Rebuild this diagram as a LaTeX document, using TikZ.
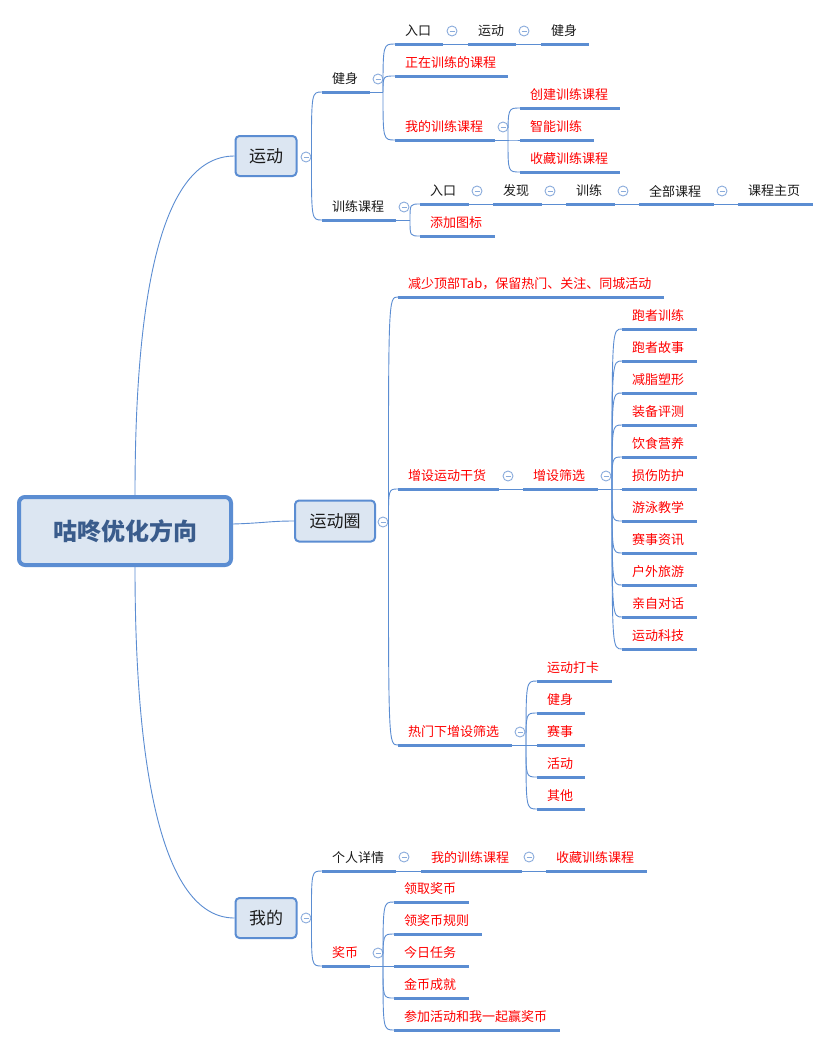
\documentclass[tikz,border=0pt]{standalone}
\usepackage{fontspec}
\setmainfont{Noto Sans CJK SC}
\usetikzlibrary{calc}
\definecolor{ublue}{HTML}{5B8DD2}
\definecolor{boxfill}{HTML}{DCE6F2}
\definecolor{rootfg}{HTML}{3A5C8C}
\definecolor{tred}{HTML}{FF0000}
\definecolor{tblack}{HTML}{1A1A1A}
\definecolor{circblue}{HTML}{8AACDC}
\tikzset{
  uline/.style={draw=ublue, line width=3pt},
  conn/.style={draw=ublue, line width=0.9pt},
  tpt/.style={anchor=west, inner sep=0pt, font=\fontsize{13}{15}\selectfont},
  colnode/.style={circle, draw=circblue, fill=white, line width=0.9pt, minimum size=10pt, inner sep=0pt,
    path picture={\draw[circblue, line width=0.9pt] ([xshift=-2.5pt]path picture bounding box.center) -- ([xshift=2.5pt]path picture bounding box.center);}},
  rootbox/.style={draw=ublue, fill=boxfill, line width=4pt, rounded corners=6pt, minimum width=212pt, minimum height=68pt,
    font=\fontsize{24}{28}\selectfont\bfseries, text=rootfg},
  mainbox/.style={draw=ublue, fill=boxfill, line width=2pt, rounded corners=4pt, minimum height=40pt,
    font=\fontsize{17}{20}\selectfont, text=tblack},
}
\newcommand\topicU[6]{%
  \coordinate (#1-l) at (#2,#3);
  \coordinate (#1-r) at ({#2+#4},#3);
  \node[tpt,text=#5] (#1) at ({#2+10},{#3-13}) {#6};
  \draw[uline] (#1-l) -- (#1-r);
}
\newcommand\collapseC[3]{\node[colnode] (#1) at (#2,#3) {};}
\newcommand\fanTo[2]{\draw[conn] (#1) .. controls (#1 |- #2-l) .. (#2-l);}
\begin{document}
\begin{tikzpicture}[x=1pt,y=-1pt]
\useasboundingbox[fill=white] (0,0) rectangle (831,1047);
% root and main topics
\node[rootbox] (root) at (125,531) {咕咚优化方向};
\node[mainbox, minimum width=61pt] (m1) at (266,156) {运动};
\node[mainbox, minimum width=80pt, minimum height=41pt] (m2) at (335,521) {运动圈};
\node[mainbox, minimum width=61pt] (m3) at (266,918) {我的};
\coordinate (rt) at (135,495);
\coordinate (rb) at (135,567);
\coordinate (rr) at (233,524);
\draw[conn] (rt) .. controls (135,280) and (165,156) .. (m1.west);
\draw[conn] (rb) .. controls (135,782) and (165,918) .. (m3.west);
\draw[conn] (rr) .. controls (265,523) and (270,521) .. (m2.west);
\collapseC{k1}{306}{157}
\collapseC{k2}{383}{522}
\collapseC{k3}{306}{918}
\coordinate (k1b) at (k1.east);
\coordinate (k2b) at (k2.east);
\coordinate (k3b) at (k3.east);

% ---- 运动
\topicU{a1}{322}{92}{48}{tblack}{健身}
\collapseC{ka1}{378}{79}
\coordinate (a1b) at (383,92);
\topicU{a11}{395}{44}{48}{tblack}{入口}
\collapseC{ka11}{452}{31}
\topicU{a111}{468}{44}{48}{tblack}{运动}
\collapseC{ka111}{524}{31}
\topicU{a1111}{541}{44}{48}{tblack}{健身}
\topicU{a12}{395}{76}{113}{tred}{正在训练的课程}
\topicU{a13}{395}{140}{100}{tred}{我的训练课程}
\collapseC{ka13}{503}{127}
\coordinate (a13b) at (508,140);
\topicU{a131}{520}{108}{100}{tred}{创建训练课程}
\topicU{a132}{520}{140}{74}{tred}{智能训练}
\topicU{a133}{520}{172}{100}{tred}{收藏训练课程}
\topicU{a2}{322}{220}{74}{tblack}{训练课程}
\collapseC{ka2}{404}{207}
\coordinate (a2b) at (410,220);
\topicU{a21}{420}{204}{49}{tblack}{入口}
\collapseC{ka21}{477}{191}
\topicU{a211}{493}{204}{49}{tblack}{发现}
\collapseC{ka211}{550}{191}
\topicU{a2111}{566}{204}{49}{tblack}{训练}
\collapseC{ka2111}{623}{191}
\topicU{a21111}{639}{204}{75}{tblack}{全部课程}
\collapseC{ka21111}{722}{191}
\topicU{a211111}{738}{204}{75}{tblack}{课程主页}
\topicU{a22}{420}{236}{75}{tred}{添加图标}

\fanTo{k1b}{a1} \fanTo{k1b}{a2}
\draw[conn] (a1-r) -- (a1b);
\fanTo{a1b}{a11} \fanTo{a1b}{a12} \fanTo{a1b}{a13}
\draw[conn] (a11-r) -- (a111-l);
\draw[conn] (a111-r) -- (a1111-l);
\draw[conn] (a13-r) -- (a13b);
\fanTo{a13b}{a131} \fanTo{a13b}{a132} \fanTo{a13b}{a133}
\draw[conn] (a2-r) -- (a2b);
\fanTo{a2b}{a21} \fanTo{a2b}{a22}
\draw[conn] (a21-r) -- (a211-l);
\draw[conn] (a211-r) -- (a2111-l);
\draw[conn] (a2111-r) -- (a21111-l);
\draw[conn] (a21111-r) -- (a211111-l);

% ---- 运动圈
\topicU{b1}{398}{297}{266}{tred}{减少顶部Tab，保留热门、关注、同城活动}
\topicU{b2}{398}{489}{101}{tred}{增设运动干货}
\collapseC{kb2}{508}{476}
\topicU{b21}{523}{489}{75}{tred}{增设筛选}
\collapseC{kb21}{606}{476}
\coordinate (b21b) at (612,489);
\foreach \txt [count=\i, evaluate=\i as \yy using 297+32*\i] in
  {跑者训练,跑者故事,减脂塑形,装备评测,饮食营养,损伤防护,游泳教学,赛事资讯,户外旅游,亲自对话,运动科技}
  {\topicU{s\i}{622}{\yy}{75}{tred}{\txt}
   \fanTo{b21b}{s\i}}
\topicU{b3}{398}{745}{114}{tred}{热门下增设筛选}
\collapseC{kb3}{520}{732}
\coordinate (b3b) at (526,745);
\topicU{b31}{537}{681}{75}{tred}{运动打卡}
\topicU{b32}{537}{713}{48}{tred}{健身}
\topicU{b33}{537}{745}{48}{tred}{赛事}
\topicU{b34}{537}{777}{48}{tred}{活动}
\topicU{b35}{537}{809}{48}{tred}{其他}

\fanTo{k2b}{b1} \fanTo{k2b}{b2} \fanTo{k2b}{b3}
\draw[conn] (b2-r) -- (b21-l);
\draw[conn] (b21-r) -- (b21b);
\draw[conn] (b3-r) -- (b3b);
\fanTo{b3b}{b31} \fanTo{b3b}{b32} \fanTo{b3b}{b33} \fanTo{b3b}{b34} \fanTo{b3b}{b35}

% ---- 我的
\topicU{c1}{322}{871}{74}{tblack}{个人详情}
\collapseC{kc1}{404}{857}
\topicU{c11}{421}{871}{101}{tred}{我的训练课程}
\collapseC{kc11}{529}{857}
\topicU{c111}{546}{871}{101}{tred}{收藏训练课程}
\topicU{c2}{322}{966}{48}{tred}{奖币}
\collapseC{kc2}{378}{953}
\coordinate (c2b) at (383,966);
\topicU{c21}{394}{902}{75}{tred}{领取奖币}
\topicU{c22}{394}{934}{88}{tred}{领奖币规则}
\topicU{c23}{394}{966}{75}{tred}{今日任务}
\topicU{c24}{394}{998}{75}{tred}{金币成就}
\topicU{c25}{394}{1030}{166}{tred}{参加活动和我一起赢奖币}

\fanTo{k3b}{c1} \fanTo{k3b}{c2}
\draw[conn] (c1-r) -- (c11-l);
\draw[conn] (c11-r) -- (c111-l);
\draw[conn] (c2-r) -- (c2b);
\fanTo{c2b}{c21} \fanTo{c2b}{c22} \fanTo{c2b}{c23} \fanTo{c2b}{c24} \fanTo{c2b}{c25}
\end{tikzpicture}
\end{document}
